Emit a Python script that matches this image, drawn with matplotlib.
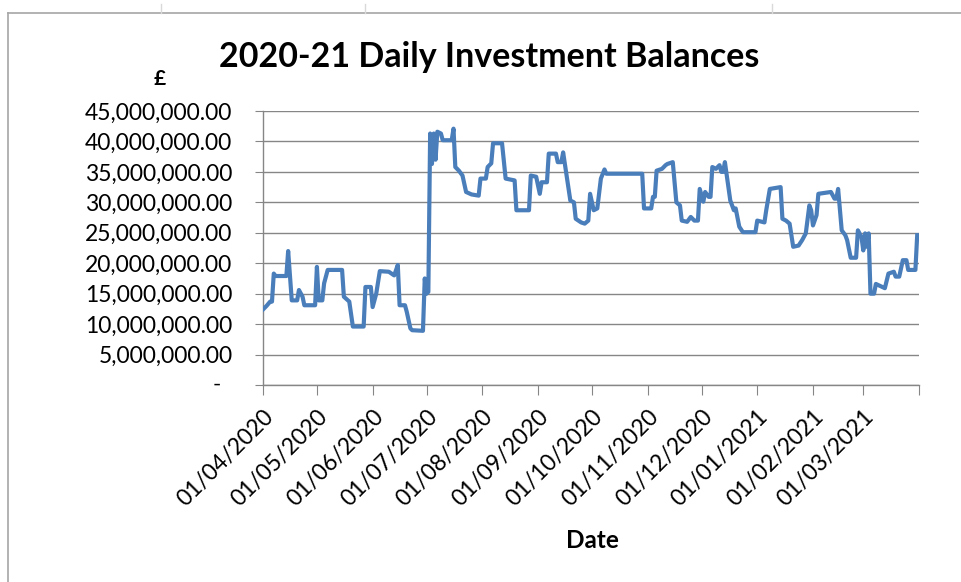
import numpy as np
import pandas as pd
import matplotlib
matplotlib.use('Agg')
import matplotlib.pyplot as plt
import matplotlib.transforms as mtransforms
from matplotlib.lines import Line2D
from matplotlib.ticker import FuncFormatter

plt.rcParams['font.family'] = ['Lato', 'DejaVu Sans']

# ------- datos -------
# dias desde el 01/04/2020 (vertices de la linea)
days = [0, 2, 4, 5, 6, 7, 13, 14, 16, 19,
        20, 22, 23, 29, 30, 31, 33, 34, 36, 44,
        45, 48, 50, 56, 57, 60, 61, 63, 65, 70,
        73, 75, 76, 79, 80, 82, 83, 89, 90, 91,
        92, 93, 94, 95, 96, 97, 99, 100, 105, 106,
        107, 109, 111, 113, 116, 120, 121, 124, 125, 127,
        128, 133, 135, 140, 141, 148, 149, 152, 154, 155,
        158, 159, 163, 164, 166, 167, 171, 173, 174, 177,
        179, 181, 182, 184, 186, 188, 190, 191, 211, 212,
        216, 217, 218, 219, 222, 224, 225, 228, 230, 232,
        233, 236, 238, 240, 242, 243, 245, 246, 248, 249,
        250, 252, 254, 255, 256, 257, 260, 262, 263, 265,
        267, 274, 275, 279, 280, 282, 288, 289, 291, 293,
        295, 298, 300, 302, 304, 305, 306, 308, 309, 316,
        318, 319, 320, 322, 324, 325, 327, 330, 331, 333,
        334, 335, 336, 337, 338, 340, 341, 346, 348, 351,
        352, 354, 356, 358, 359, 363, 364]

# saldo en millones de libras
balance_m = [12.4, 13.0, 13.7, 13.7, 18.3, 17.9, 17.9, 22.0, 13.9, 13.9,
             15.6, 14.5, 13.1, 13.1, 19.4, 13.9, 13.9, 16.7, 18.9, 18.9,
             14.5, 13.7, 9.6, 9.6, 16.1, 16.1, 12.8, 15.0, 18.7, 18.6,
             18.0, 19.7, 13.1, 13.1, 12.0, 9.3, 9.0, 8.9, 17.5, 15.0,
             15.3, 41.3, 36.3, 41.3, 37.0, 41.6, 41.3, 40.2, 40.2, 42.1,
             35.8, 35.2, 34.4, 31.7, 31.3, 31.1, 33.9, 33.9, 35.8, 36.4,
             39.7, 39.7, 33.9, 33.6, 28.7, 28.7, 34.4, 34.2, 31.4, 33.3,
             33.3, 38.0, 38.0, 36.6, 36.6, 38.2, 30.3, 30.0, 27.3, 26.7,
             26.5, 27.0, 31.4, 28.7, 29.0, 33.9, 35.4, 34.7, 34.7, 29.0,
             29.0, 30.9, 30.9, 35.2, 35.5, 36.1, 36.3, 36.6, 30.0, 29.5,
             27.0, 26.8, 27.6, 27.0, 27.0, 32.2, 30.1, 31.7, 30.9, 30.9,
             35.8, 35.5, 36.1, 35.0, 35.0, 36.6, 30.3, 28.7, 29.0, 26.0,
             25.1, 25.1, 27.0, 26.7, 28.7, 32.2, 32.5, 27.3, 27.0, 26.5,
             22.7, 22.9, 23.8, 24.9, 29.5, 28.7, 26.2, 27.9, 31.4, 31.7,
             30.6, 30.6, 32.2, 25.4, 24.6, 23.8, 20.9, 20.9, 25.4, 24.3,
             22.1, 24.9, 22.7, 24.9, 15.0, 15.0, 16.6, 15.9, 18.3, 18.6,
             17.8, 17.8, 20.5, 20.5, 18.9, 18.9, 24.6]

start = pd.Timestamp('2020-04-01')
end = pd.Timestamp('2021-04-01')
dates = start + pd.to_timedelta(days, unit='D')
balance = np.array(balance_m) * 1e6

month_ticks = pd.date_range(start, end, freq='MS')
y_ticks = np.arange(0, 45e6 + 1, 5e6)

# ------- grafico -------
fig = plt.figure(figsize=(9.61, 5.82), dpi=100)
ax = fig.add_axes([263 / 961, 1 - 385 / 582, 656 / 961, (385 - 111) / 582])

grid_col = '#868686'
ax.plot(dates, balance, color='#4A7EBB', linewidth=3.0, solid_joinstyle='round', zorder=3)

ax.set_xlim(start, end)
ax.set_ylim(0, 45e6)
ax.set_yticks(y_ticks)
ax.set_xticks(month_ticks)
labels = [d.strftime('%d/%m/%Y') for d in month_ticks]
labels[-1] = ''
ax.set_xticklabels(labels, rotation=45, ha='right', rotation_mode='anchor')
ax.yaxis.set_major_formatter(FuncFormatter(lambda v, p: '' if v == 0 else f'{v:,.2f}'))

ax.grid(axis='y', color=grid_col, linewidth=1.0)
ax.set_axisbelow(True)
for s in ['top', 'right']:
    ax.spines[s].set_visible(False)
for s in ['left', 'bottom']:
    ax.spines[s].set_color(grid_col)
    ax.spines[s].set_linewidth(1.0)
ax.tick_params(axis='y', length=6, color=grid_col, labelsize=16.5, pad=16)
ax.tick_params(axis='x', length=7, color=grid_col, labelsize=16.5, pad=8)

# el cero se muestra como guion (formato contable)
trans = mtransforms.blended_transform_factory(ax.transAxes, ax.transData)
ax.text(-0.07, 0, '-', transform=trans, ha='center', va='center', fontsize=16)

fig.text(489 / 961, 1 - 57 / 582, '2020-21 Daily Investment Balances',
         ha='center', va='center', fontsize=24.5, fontweight='bold')
fig.text(160 / 961, 1 - 79 / 582, '£', ha='center', va='center', fontsize=15, fontweight='bold')
fig.text(592 / 961, 1 - 541 / 582, 'Date', ha='center', va='center', fontsize=17.5, fontweight='bold')

# borde del objeto grafico
border = '#a6a6a6'
fig.add_artist(Line2D([8 / 961, 1], [1 - 13 / 582] * 2, color=border, linewidth=1.2))
fig.add_artist(Line2D([8 / 961] * 2, [0, 1 - 13 / 582], color=border, linewidth=1.2))
for xp in [161, 365, 772]:
    fig.add_artist(Line2D([xp / 961] * 2, [1 - 4 / 582, 1 - 13 / 582], color='#d9d9d9', linewidth=1))

plt.savefig('out.png', dpi=100)
